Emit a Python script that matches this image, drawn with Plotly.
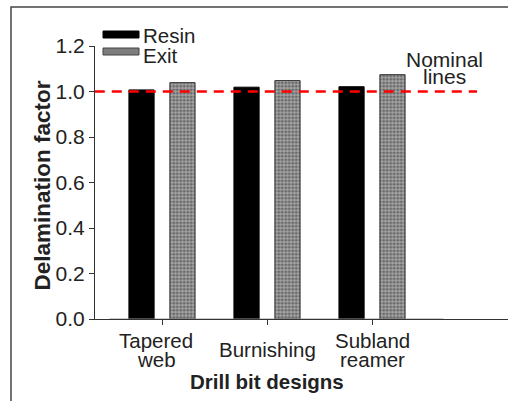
import plotly.graph_objects as go

# ---- data ----
categories = ["Tapered web", "Burnishing", "Subland reamer"]
category_lines = [["Tapered", "web"], ["Burnishing"], ["Subland", "reamer"]]
resin = [1.007, 1.019, 1.021]
exit_vals = [1.039, 1.048, 1.074]
series_names = ["Resin", "Exit"]
nominal_value = 1.0
nominal_label = ["Nominal", "lines"]
y_ticks = [0.0, 0.2, 0.4, 0.6, 0.8, 1.0, 1.2]
y_ticktext = ["0.0", "0.2", "0.4", "0.6", "0.8", "1.0", "1.2"]
x_title = "Drill bit designs"
y_title = "Delamination factor"

FONT = "Liberation Sans, Arial, sans-serif"
TXT = "#222222"

xpos = list(range(len(categories)))
bar_w = 0.24

fig = go.Figure()
fig.add_trace(go.Bar(
    x=xpos, y=resin, name=series_names[0], width=bar_w, offset=-0.315,
    marker=dict(color="black", line=dict(color="black", width=1)),
    showlegend=False,
))
fig.add_trace(go.Bar(
    x=xpos, y=exit_vals, name=series_names[1], width=bar_w, offset=0.075,
    marker=dict(color="#8a8a8a", line=dict(color="#333333", width=1),
                pattern=dict(shape=".", fgcolor="#2a2a2a", bgcolor="#a4a4a4",
                             size=3.5, solidity=0.5)),
    showlegend=False,
))

annotations = []
# category labels (tight line spacing)
label_shift = [-6, 0, 0]
for i, lines in enumerate(category_lines):
    if len(lines) == 1:
        ys = [349.5]
    else:
        ys = [340, 359]
    for ln, ypx in zip(lines, ys):
        annotations.append(dict(
            x=i, xref="x", y=(319 - ypx) / 273, yref="paper", xshift=label_shift[i],
            text=ln, showarrow=False, xanchor="center", yanchor="middle",
            font=dict(family=FONT, size=20.5, color=TXT),
        ))
# axis titles
annotations.append(dict(
    x=1, xref="x", y=(319 - 381) / 273, yref="paper", text="<b>%s</b>" % x_title,
    showarrow=False, xanchor="center", yanchor="middle",
    font=dict(family=FONT, size=20.5, color=TXT),
))
annotations.append(dict(
    x=(42 - 95) / 413, xref="paper", y=(319 - 185.5) / 273, yref="paper",
    text="<b>%s</b>" % y_title, textangle=-90, showarrow=False,
    xanchor="center", yanchor="middle",
    font=dict(family=FONT, size=22.5, color=TXT),
))
# nominal line label
for ln, ypx in zip(nominal_label, [59, 76.5]):
    annotations.append(dict(
        x=2.69, xref="x", y=(319 - ypx) / 273, yref="paper", text=ln,
        showarrow=False, xanchor="center", yanchor="middle",
        font=dict(family=FONT, size=21, color=TXT),
    ))
# legend texts
for name, ypx in zip(series_names, [36, 55]):
    annotations.append(dict(
        x=(141 - 95) / 413, xref="paper", y=(319 - ypx) / 273, yref="paper",
        text=name, showarrow=False, xanchor="left", yanchor="middle",
        font=dict(family=FONT, size=20.5, color=TXT),
    ))

shapes = [
    # outer frame
    dict(type="rect", xref="paper", yref="paper",
         x0=(11 - 95) / 413, x1=1.2, y0=-0.6, y1=(319 - 7) / 273,
         line=dict(color="#444444", width=1.5), fillcolor="rgba(0,0,0,0)", layer="below"),
    # nominal dashed line
    dict(type="line", xref="x", yref="y", x0=-0.64, x1=3.0,
         y0=nominal_value, y1=nominal_value,
         line=dict(color="#ff0000", width=2.5, dash="10px,7px"), layer="above"),
    # bar baseline
    dict(type="line", xref="x", yref="y", x0=-0.5, x1=2.68, y0=0, y1=0,
         line=dict(color="#999999", width=1), layer="above"),
    # legend swatches
    dict(type="rect", xref="paper", yref="paper",
         x0=(103 - 95) / 413, x1=(139 - 95) / 413,
         y0=(319 - 38) / 273, y1=(319 - 31) / 273,
         fillcolor="black", line=dict(color="black", width=1)),
    dict(type="rect", xref="paper", yref="paper",
         x0=(103 - 95) / 413, x1=(139 - 95) / 413,
         y0=(319 - 55) / 273, y1=(319 - 48) / 273,
         fillcolor="#7e7e7e", line=dict(color="#444444", width=1)),
]

fig.update_layout(
    width=508, height=401,
    margin=dict(l=95, r=0, t=46, b=82),
    paper_bgcolor="white", plot_bgcolor="white",
    barmode="overlay",
    showlegend=False,
    annotations=annotations,
    shapes=shapes,
    font=dict(family=FONT, color=TXT),
)
fig.update_xaxes(
    range=[-0.638, 3.295], tickvals=xpos, ticktext=["" for _ in xpos],
    showline=True, linecolor="#333333", linewidth=1,
    ticks="outside", ticklen=5, tickcolor="#333333",
    showgrid=False, zeroline=False, fixedrange=True,
)
fig.update_yaxes(
    range=[0, 1.2], tickvals=y_ticks, ticktext=y_ticktext,
    showline=True, linecolor="#333333", linewidth=1,
    ticks="outside", ticklen=5, tickcolor="#333333",
    tickfont=dict(family=FONT, size=21, color=TXT),
    showgrid=False, zeroline=False, fixedrange=True,
)

fig.write_html("out.html")
